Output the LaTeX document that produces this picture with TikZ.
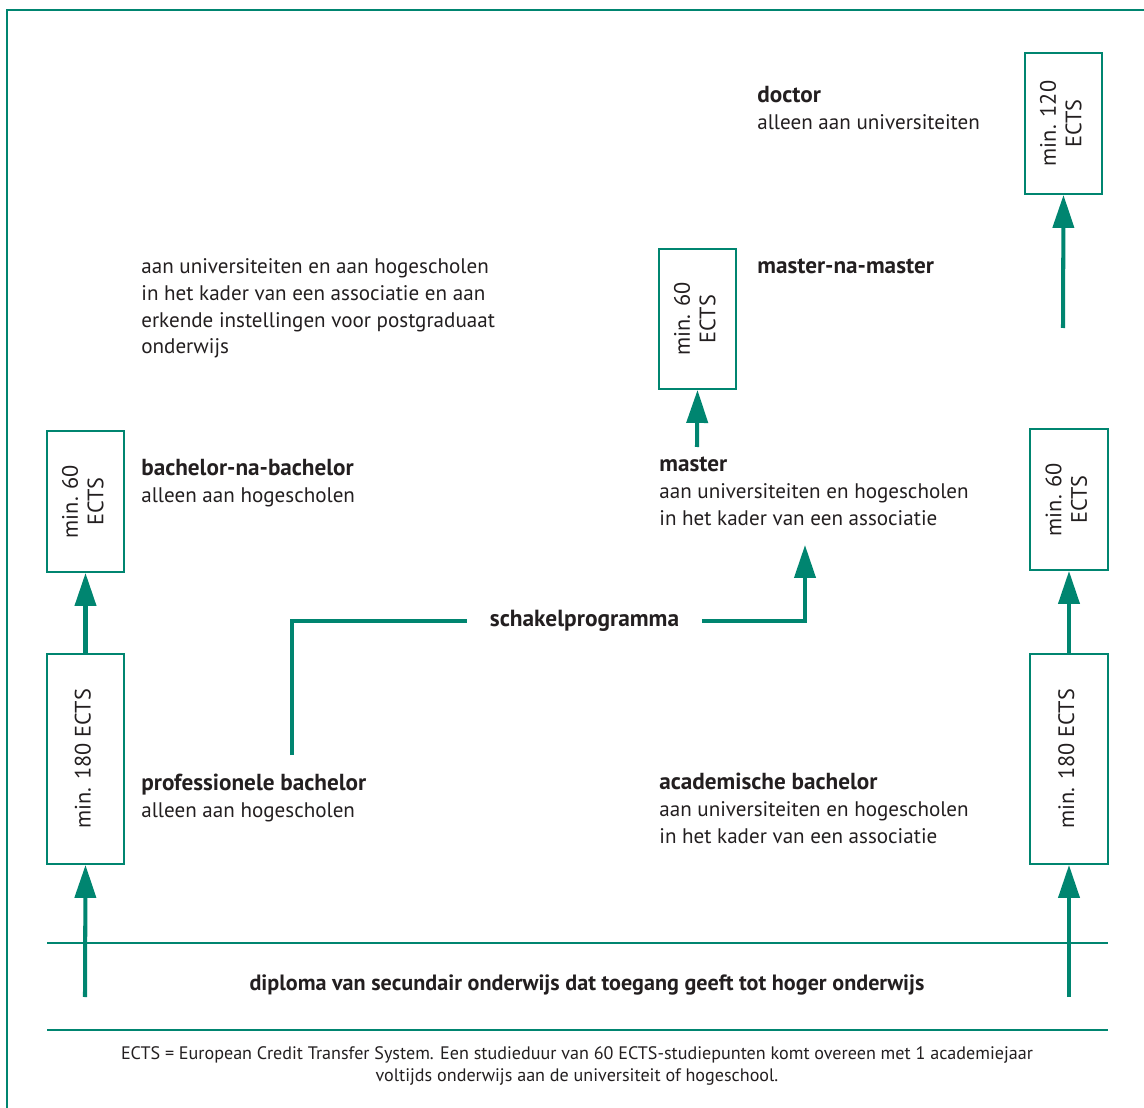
\documentclass[tikz,border=0pt]{standalone}
\usepackage{fontspec}
\usepackage{graphicx}
\setmainfont{PT Sans}
\usetikzlibrary{arrows.meta}
\definecolor{ectsgreen}{RGB}{0,133,112}
\definecolor{inkgray}{RGB}{35,31,32}

\tikzset{
  ectsbox/.style={draw=ectsgreen, line width=1.1pt, minimum width=1.55cm, inner sep=0,
    text=inkgray, font=\fontsize{12.7}{14.5}\selectfont},
  uparrow/.style={draw=ectsgreen, line width=2.3pt, -{Triangle[length=0.66cm,width=0.42cm]}},
  rule/.style={draw=ectsgreen, line width=1pt},
  lbl/.style={anchor=north west, inner sep=0, align=left, text=inkgray,
    font=\fontsize{12}{15.3}\selectfont}
}
\newcommand{\ectstext}[1]{\rotatebox{90}{\begin{tabular}{@{}c@{}}#1\end{tabular}}}
\newcommand{\head}[1]{{\fontsize{13.2}{15.3}\selectfont\bfseries #1}}

\begin{document}
\begin{tikzpicture}[x=0.02cm, y=-0.02cm]
\useasboundingbox (0,0) rectangle (1144,1108);
% frame, only left and top edges show
\draw[ectsgreen, line width=1.6pt] (7,1120) |- (1150,10);

% boxes
\node[ectsbox, minimum height=2.82cm] (bnb) at (85.5,501.5) {\ectstext{min. 60\\ECTS}};
\node[ectsbox, minimum height=4.2cm] (pb) at (85.5,759) {\ectstext{min. 180 ECTS}};
\node[ectsbox, minimum height=2.82cm] (acm) at (1069,499.5) {\ectstext{min. 60\\ECTS}};
\node[ectsbox, minimum height=4.2cm] (ab) at (1069,759) {\ectstext{min. 180 ECTS}};
\node[ectsbox, minimum height=2.8cm] (mnm) at (697.5,319) {\ectstext{min. 60\\ECTS}};
\node[ectsbox, minimum height=2.82cm] (doc) at (1063.5,123.5) {\ectstext{min. 120\\ECTS}};

% labels
\node[lbl] (tdoc) at (757,86) {\head{doctor}\\alleen aan universiteiten};
\node[lbl] (tmnm) at (757,259) {\head{master-na-master}};
\node[lbl] (tpost) at (141,258) {aan universiteiten en aan hogescholen\\in het kader van een associatie en aan\\erkende instellingen voor postgraduaat\\onderwijs};
\node[lbl] (tbnb) at (141,459) {\head{bachelor-na-bachelor}\\alleen aan hogescholen};
\node[lbl] (tma) at (659,457) {\head{master}\\aan universiteiten en hogescholen\\in het kader van een associatie};
\node[lbl] (tpb) at (141,774) {\head{professionele bachelor}\\alleen aan hogescholen};
\node[lbl] (tab) at (659,773) {\head{academische bachelor}\\aan universiteiten en hogescholen\\in het kader van een associatie};
\node[inner xsep=0.45cm, text=inkgray, font=\fontsize{13.3}{15.3}\selectfont\bfseries] (skp) at (584.5,621) {schakelprogramma};

% connectors
\coordinate (sl) at (85,997);
\coordinate (sr) at (1069,997);
\coordinate (mtop) at (697,447);
\coordinate (dtop) at (1063,328);
\coordinate (sbot) at (292,755);
\coordinate (mbot) at (805,545);
\draw[uparrow] (sl) -- (pb.south);
\draw[uparrow] (pb.north) -- (bnb.south);
\draw[uparrow] (sr) -- (ab.south);
\draw[uparrow] (ab.north) -- (acm.south);
\draw[uparrow] (mtop) -- (mnm.south);
\draw[uparrow] (dtop) -- (doc.south);
\draw[ectsgreen, line width=2.3pt] (sbot) |- (skp.west);
\draw[uparrow] (skp.east) -| (mbot);

% bottom
\draw[rule] (47,943) -- (1108,943);
\draw[rule] (47,1030) -- (1108,1030);
\node[text=inkgray, font=\fontsize{12.6}{15.3}\selectfont\bfseries] (dipl) at (587,985) {diploma van secundair onderwijs dat toegang geeft tot hoger onderwijs};
\node[text=inkgray, align=center, font=\fontsize{10.3}{13}\selectfont] (note) at (577,1066) {ECTS = European Credit Transfer System. Een studieduur van 60 ECTS-studiepunten komt overeen met 1 academiejaar\\voltijds onderwijs aan de universiteit of hogeschool.};
\end{tikzpicture}
\end{document}
